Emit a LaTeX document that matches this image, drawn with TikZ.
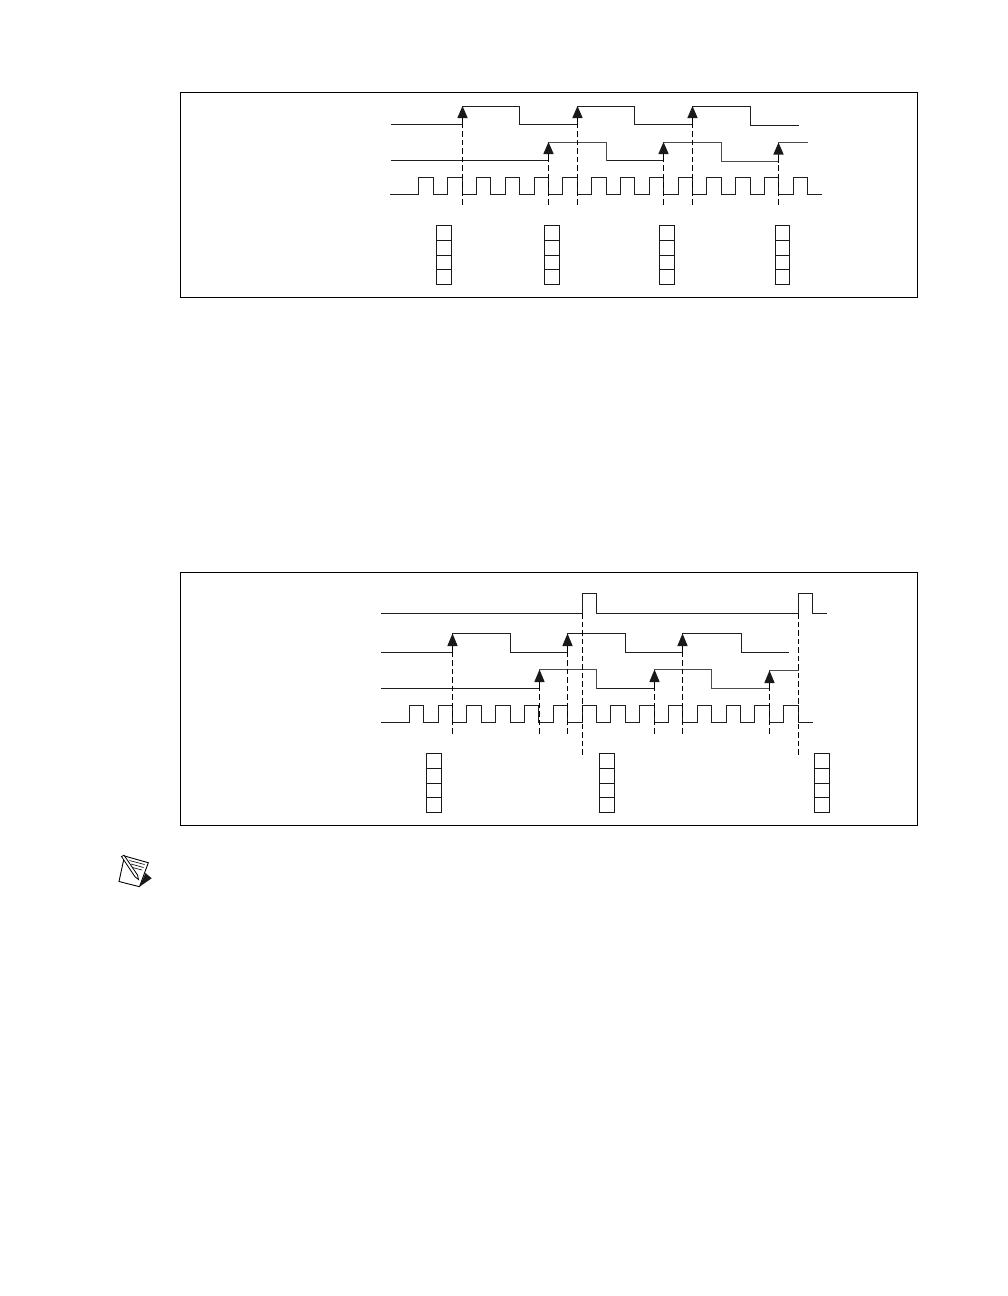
\documentclass[tikz,border=0pt]{standalone}
\begin{document}
\begin{tikzpicture}[x=1pt,y=-1pt,
  frame/.style={draw=black,line width=1.1pt,fill=white},
  wave/.style={draw=black!88,line width=1.15pt,line join=miter},
  greywave/.style={draw=black!70,line width=1.3pt,line join=miter},
  guide/.style={draw=black,line width=1pt,dash pattern=on 5.5pt off 3pt},
  stem/.style={draw=black,line width=1pt},
  tip/.style={fill=black!90,draw=none},
  cell/.style={draw=black!90,line width=1.05pt,fill=white}]
\useasboundingbox (0,0) rectangle (1008,1296);
\fill[white] (0,0) rectangle (1008,1296);

% ---------- upper panel ----------
\draw[frame] (180.5,92.5) rectangle (917.5,297.5);
\draw[wave] (391,124.5) -| (462.5,106.5) -| (519.5,124.5) -| (577.5,106.5) -| (634.5,124.5) -| (692.5,106.5) -| (750.5,125.5) -- (798.5,125.5);
\draw[greywave] (391,160.5) -| (548.5,142.5) -| (606.5,160.5) -| (663.5,142.5) -| (721.5,161.5) -| (778.5,142.5) -- (807.5,142.5);
\draw[wave] (391,160.5) -- (548.5,160.5) (606.5,160.5) -- (663.5,160.5);
\draw[wave] (390,194.5) -| (418.5,177.5) -| (433.5,194.5) -| (447.5,177.5) -| (462.5,194.5)
  -| (476.5,177.5) -| (490.5,194.5) -| (505.5,177.5) -| (519.5,194.5)
  -| (534.5,177.5) -| (548.5,194.5) -| (562.5,177.5) -| (577.5,194.5)
  -| (591.5,177.5) -| (606.5,194.5) -| (620.5,177.5) -| (634.5,194.5)
  -| (649.5,177.5) -| (663.5,194.5) -| (678.5,177.5) -| (692.5,194.5)
  -| (706.5,177.5) -| (721.5,194.5) -| (735.5,177.5) -| (750.5,194.5)
  -| (764.5,177.5) -| (778.5,194.5) -| (793.5,177.5) -| (807.5,194.5) -- (821.5,194.5);
\foreach \x/\top/\base/\low in {462.5/106/118/124.5, 577.5/106/118/124.5, 692.5/106/118/124.5,
                                548.5/142/154/160.5, 663.5/142/154/160.5, 778.5/142.5/154.5/161.5}{
  \coordinate (apex) at (\x,\top);
  \coordinate (foot) at (\x,\low);
  \coordinate (end) at (\x,204.5);
  \draw[guide] (end) -- (foot);
  \draw[stem] (\x,\base) -- (foot);
  \fill[tip] (apex) -- (\x+5.2,\base) -- (\x-5.2,\base) -- cycle;
}
\foreach \a/\b in {436.5/451.5, 544.5/559.5, 659.5/674.5, 775.5/789.5}{
  \draw[cell] (\a,225.5) rectangle (\b,240.5);
  \draw[cell] (\a,240.5) rectangle (\b,255.5);
  \draw[cell] (\a,255.5) rectangle (\b,269.5);
  \draw[cell] (\a,269.5) rectangle (\b,284.5);
}

% ---------- lower panel ----------
\draw[frame] (180.5,572.5) rectangle (917.5,825.5);
\draw[wave] (381,613.5) -| (582.5,593.5) -| (596.5,613.5) -| (798.5,593.5) -| (812.5,613.5) -- (826.5,613.5);
\draw[wave] (381,652.5) -| (452.5,633.5) -| (510.5,652.5) -| (567.5,633.5) -| (625.5,652.5) -| (682.5,633.5) -| (741.5,652.5) -- (788.5,652.5);
\draw[greywave] (381,688.5) -| (539.5,669.5) -| (596.5,688.5) -| (654.5,669.5) -| (711.5,688.5) -| (769.5,670.5) -- (798.5,670.5);
\draw[wave] (381,688.5) -- (539.5,688.5) (596.5,688.5) -- (654.5,688.5);
\draw[wave] (381,722.5) -| (409.5,705.5) -| (423.5,722.5) -| (438.5,705.5) -| (452.5,722.5)
  -| (466.5,705.5) -| (481.5,722.5) -| (495.5,705.5) -| (510.5,722.5)
  -| (524.5,705.5) -| (538.5,722.5) -| (553.5,705.5) -| (567.5,722.5)
  -| (582.5,705.5) -| (596.5,722.5) -| (610.5,705.5) -| (625.5,722.5)
  -| (639.5,705.5) -| (654.5,722.5) -| (668.5,705.5) -| (682.5,722.5)
  -| (697.5,705.5) -| (711.5,722.5) -| (726.5,705.5) -| (740.5,722.5)
  -| (754.5,705.5) -| (769.5,722.5) -| (783.5,705.5) -| (798.5,722.5) -- (812.5,722.5);
\foreach \x/\top/\base/\low in {452.5/633.5/646/652.5, 567.5/633.5/646/652.5, 682.5/633.5/646/652.5,
                                539.5/669.5/682/688.5, 654.5/669.5/682/688.5, 769.5/670.5/683/688.5}{
  \coordinate (apex) at (\x,\top);
  \coordinate (foot) at (\x,\low);
  \coordinate (end) at (\x,733.5);
  \draw[guide] (end) -- (foot);
  \draw[stem] (\x,\base) -- (foot);
  \fill[tip] (apex) -- (\x+5.2,\base) -- (\x-5.2,\base) -- cycle;
}
\foreach \x in {582.5,798.5}{
  \coordinate (foot) at (\x,613.5);
  \coordinate (end) at (\x,754.5);
  \draw[guide] (end) -- (foot);
}
\foreach \a/\b in {426.5/441.5, 599.5/614.5, 814.5/829.5}{
  \draw[cell] (\a,753.5) rectangle (\b,768.5);
  \draw[cell] (\a,768.5) rectangle (\b,783.5);
  \draw[cell] (\a,783.5) rectangle (\b,797.5);
  \draw[cell] (\a,797.5) rectangle (\b,812.5);
}

% ---------- note icon ----------
\fill[black!90] (139.5,886.7) -- (151.7,878.3) -- (145.5,873) -- cycle;
\draw[black,line width=0.9pt,line join=miter,fill=white] (124.5,856) -- (148.3,862.7) -- (139.5,886.7) -- (119,881.5) -- cycle;
\draw[black,line width=0.6pt] (129.5,860.5) -- (144.5,864.5) (131,864) -- (143.5,867.5) (132.5,867.5) -- (142,870);
\draw[black,line width=0.8pt,fill=white] (121.5,856.5) -- (124,855.2) -- (137.5,875) -- (138.5,879.5) -- (135,876.8) -- cycle;
\end{tikzpicture}
\end{document}
